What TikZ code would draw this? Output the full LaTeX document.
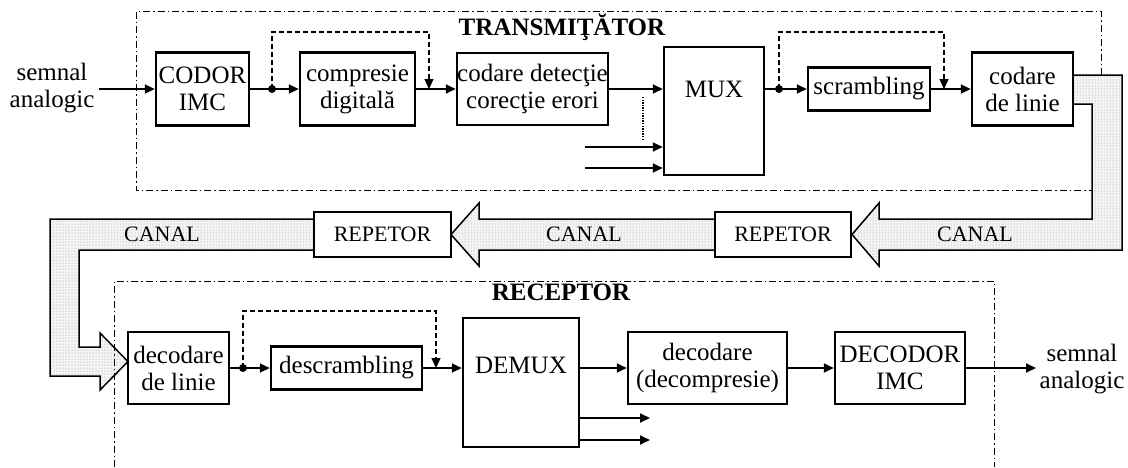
\documentclass[tikz,border=0pt]{standalone}
\usepackage{fontspec}
\setmainfont{Liberation Serif}
\usetikzlibrary{arrows.meta,patterns}
\begin{document}
\begin{tikzpicture}[x=1pt,y=-1pt,font=\fontsize{25}{27}\selectfont]
\tikzset{
 box/.style={draw, line width=2.5pt, inner sep=0pt, align=center, fill=white},
 arr/.style={line width=1.7pt, -{Triangle[length=10pt,width=9pt]}},
 fb/.style={line width=1.2pt, dash pattern=on 5pt off 3pt, -{Triangle[length=10pt,width=9pt]}},
 frame/.style={line width=1pt, dash pattern=on 7pt off 3pt on 1.5pt off 3pt},
 band/.style={draw, line width=1.5pt, preaction={fill=gray!8}, pattern=dots, pattern color=gray!90},
 dotnode/.style={circle, fill, inner sep=0pt, minimum size=8pt},
 small/.style={font=\fontsize{22}{24}\selectfont},
 title/.style={font=\fontsize{25}{27}\selectfont\bfseries},
 txt/.style={align=center, inner sep=0pt}
}
\useasboundingbox (0,0) rectangle (1128,467);

% channel bands
\path[band] (1073,75) -- (1122,75) -- (1122,250) -- (879,250) -- (879,266) -- (852,234.5) -- (879,203) -- (879,219) -- (1092,219) -- (1092,104) -- (1073,104);
\path[band] (715,219) -- (479,219) -- (479,203) -- (451,234.5) -- (479,266) -- (479,250) -- (715,250);
\path[band] (314,219) -- (50,219) -- (50,376) -- (100,376) -- (100,390) -- (128,361.5) -- (100,333) -- (100,347) -- (79,347) -- (79,250) -- (314,250);

% frames
\draw[frame] (1101,75) -- (1101,11) -- (136,11) -- (136,190) -- (1092,190);
\draw[frame] (114,467) -- (114,281) -- (994,281) -- (994,467);

% titles and labels
\node[title] (ttx) at (562,27) {TRANSMIŢĂTOR};
\node[title] (trx) at (561,292) {RECEPTOR};
\node[txt] (inlab) at (52,88) {semnal\\analogic};
\node[txt] (outlab) at (1082,369) {semnal\\analogic};
\node[small] (c1) at (162,234.5) {CANAL};
\node[small] (c2) at (584,234.5) {CANAL};
\node[small] (c3) at (975,234.5) {CANAL};

% transmitter boxes
\node[box, minimum width=93pt, minimum height=73pt] (codor) at (202.5,89) {CODOR\\IMC};
\node[box, minimum width=115pt, minimum height=73pt] (compr) at (357.5,89) {compresie\\digitală};
\node[box, minimum width=151pt, minimum height=72pt] (codare) at (532.5,89) {codare detecţie\\corecţie erori};
\node[box, minimum width=100pt, minimum height=128pt] (mux) at (714,111) {};
\node[txt] (muxt) at (714,89) {MUX};
\node[box, minimum width=122pt, minimum height=43pt] (scr) at (869,89) {scrambling};
\node[box, minimum width=101pt, minimum height=73pt] (linie) at (1022.5,89) {codare\\de linie};

% repeaters
\node[box, small, minimum width=137pt, minimum height=45pt] (rep1) at (382.5,234.5) {REPETOR};
\node[box, small, minimum width=136pt, minimum height=45pt] (rep2) at (783,234.5) {REPETOR};

% receiver boxes
\node[box, minimum width=101pt, minimum height=72pt] (declin) at (178.5,368) {decodare\\de linie};
\node[box, minimum width=151pt, minimum height=43pt] (descr) at (346.5,368) {descrambling};
\node[box, minimum width=116pt, minimum height=129pt] (demux) at (521,382.5) {};
\node[txt] (demuxt) at (521,365) {DEMUX};
\node[box, minimum width=159pt, minimum height=72pt] (decod) at (707.5,368) {decodare\\(decompresie)};
\node[box, minimum width=130pt, minimum height=72pt] (decodor) at (900,368) {DECODOR\\IMC};

% coordinates
\coordinate (in) at (99,89);
\node[dotnode] (d1) at (272,89) {};
\coordinate (j1) at (429,89);
\node[dotnode] (d2) at (779,89) {};
\coordinate (j2) at (944,89);
\coordinate (m1) at (585,147);
\coordinate (m2) at (585,168);
\coordinate (dt1) at (643,97);
\coordinate (dt2) at (643,140);
\node[dotnode] (d3) at (243,368) {};
\coordinate (j3) at (436,368);
\coordinate (o1) at (650,418);
\coordinate (o2) at (650,440);
\coordinate (out) at (1036,368);

% transmitter connectors
\draw[arr] (in) -- (codor.west);
\draw[line width=1.7pt] (codor.east) -- (d1.center);
\draw[arr] (d1.center) -- (compr.west);
\draw[fb] (d1.center) -- ++(0,-57) -| (j1);
\draw[arr] (compr.east) -- (codare.west);
\draw[arr] (codare.east) -- (codare.east -| mux.west);
\draw[line width=1.3pt, dash pattern=on 1.3pt off 1.3pt] (dt1) -- (dt2);
\draw[arr] (m1) -- (m1 -| mux.west);
\draw[arr] (m2) -- (m2 -| mux.west);
\draw[line width=1.7pt] (muxt.center -| mux.east) -- (d2.center);
\draw[arr] (d2.center) -- (scr.west);
\draw[fb] (d2.center) -- ++(0,-57) -| (j2);
\draw[arr] (scr.east) -- (linie.west);

% receiver connectors
\draw[line width=1.7pt] (declin.east) -- (d3.center);
\draw[arr] (d3.center) -- (descr.west);
\draw[fb] (d3.center) -- ++(0,-57) -| (j3);
\draw[arr] (descr.east) -- (descr.east -| demux.west);
\draw[arr] (demux.east |- decod.west) -- (decod.west);
\draw[arr] (o1 -| demux.east) -- (o1);
\draw[arr] (o2 -| demux.east) -- (o2);
\draw[arr] (decod.east) -- (decodor.west);
\draw[arr] (decodor.east) -- (out);
\end{tikzpicture}
\end{document}
